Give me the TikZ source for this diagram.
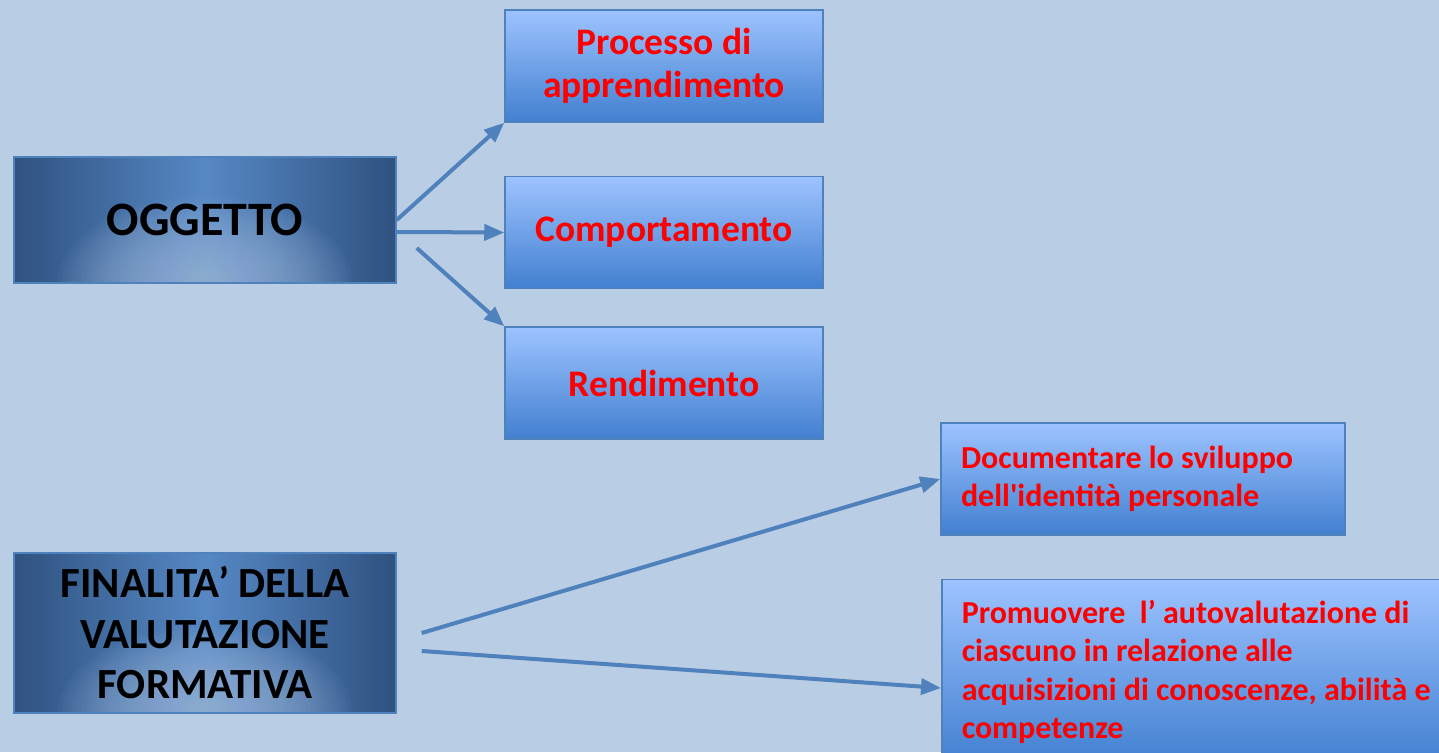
\documentclass[tikz,border=0pt]{standalone}
\usepackage{fontspec}
\setmainfont{Carlito}
\usetikzlibrary{positioning, arrows.meta}
\definecolor{bgblue}{RGB}{185,205,229}
\definecolor{lineblue}{RGB}{79,129,189}
\definecolor{boxtop}{RGB}{157,195,255}
\definecolor{boxbot}{RGB}{66,128,208}
\definecolor{darkedge}{RGB}{47,82,128}
\definecolor{midblue}{RGB}{86,136,196}
\definecolor{glowblue}{RGB}{168,194,228}
\tikzset{
  sub/.style={draw=lineblue, line width=1.5pt, top color=boxtop, bottom color=boxbot,
    text=red, font=\bfseries\fontsize{37.5}{43}\selectfont, align=flush center,
    minimum width=318pt, minimum height=112pt, inner sep=0pt},
  aim/.style={draw=lineblue, line width=1.5pt, top color=boxtop, bottom color=boxbot,
    text=red, font=\bfseries\fontsize{32}{38.5}\selectfont, align=flush left,
    text width=364pt, inner xsep=20pt},
  head/.style={draw=lineblue, line width=1.5pt, left color=darkedge, right color=darkedge,
    middle color=midblue, text=black, align=flush center, minimum width=382pt, inner sep=0pt,
    path picture={\foreach \k in {1,...,32}
      \fill[glowblue, fill opacity=0.045]
        (path picture bounding box.south) ellipse ({\k*4.6pt} and {\k*2.7pt});}},
  link/.style={lineblue, line width=4pt, -{Triangle[length=20pt,width=16pt]}}
}
\begin{document}
\begin{tikzpicture}[x=1pt, y=1pt]
\useasboundingbox (0,0) rectangle (1439,752);
\fill[bgblue] (0,0) rectangle (1439,752);
\clip (0,0) rectangle (1439,752);
%% oggetto
	\node[head, minimum height=126pt, font=\bfseries\fontsize{48}{52}\selectfont] (ogg) at (205,532) {OGGETTO};
	\node[sub] (proc) at (664,686) {Processo di\\apprendimento};
	\node[sub] (comp) at (664,519.5) {Comportamento};
	\node[sub] (rend) at (664,369) {Rendimento};
  \draw[link] (ogg.east) -- (proc.south west);
  \draw[link] ([yshift=-12pt]ogg.east) -- (comp.west);
  \draw[link] ([shift={(20pt,-28pt)}]ogg.east) -- (rend.north west);
%% finalita
	\node[head, minimum height=160pt, font=\bfseries\fontsize{43}{50.5}\selectfont] (fin) at (205,119) {FINALITA’ DELLA\\VALUTAZIONE\\FORMATIVA};
	\node[aim, minimum height=112pt] (doc) at (1143,273) {Documentare lo sviluppo\\dell\textquotesingle identità personale};
	\node[aim, text width=490pt, inner ysep=20pt, anchor=north west] (prom) at (941,173) {Promuovere\ \ l’ autovalutazione di\\ciascuno in relazione alle\\acquisizioni di conoscenze, abilità e\\competenze};
  \draw[link] ([xshift=25pt]fin.east) -- (doc.west);
  \draw[link] ([shift={(25pt,-18pt)}]fin.east) -- ([yshift=-109pt]prom.north west);
\end{tikzpicture}
\end{document}
